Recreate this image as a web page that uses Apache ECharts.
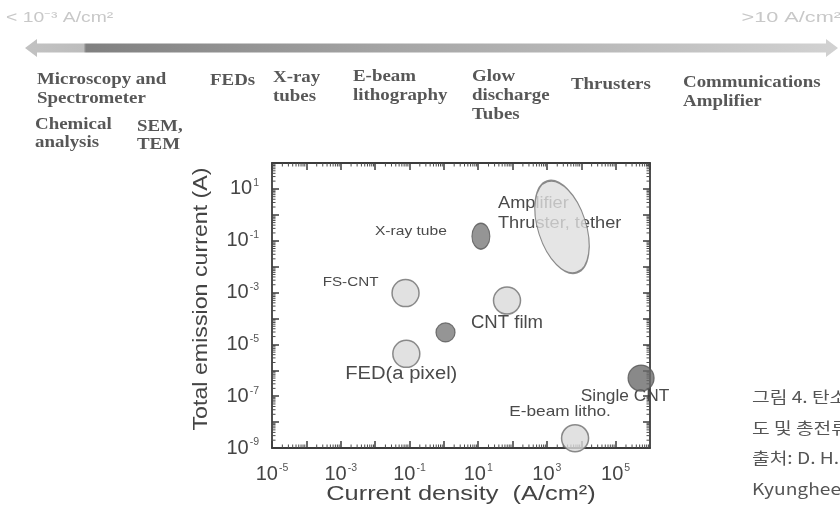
<!DOCTYPE html>
<html>
<head>
<meta charset="utf-8">
<script src="https://cdn.jsdelivr.net/npm/echarts@6/dist/echarts.min.js"></script>
<style>html,body{margin:0;padding:0;background:#fff;}#c{width:840px;height:507px;}</style>
</head>
<body>
<div id="c"></div>
<script>
// ---- data ----
const pointNames = ['X-ray tube', 'FS-CNT', 'CNT film', '', 'FED(a pixel)', 'Single CNT', 'E-beam litho.', 'Amplifier\nThruster, tether'];
const currentDensity = [12, 0.077, 69, 1.12, 0.081, 5.5e5, 6600, 2750];                      // A/cm^2
const emissionCurrent = [0.15, 0.00095, 0.00049, 0.000029, 0.0000043, 0.0000005, 0.0000000024, 0.34]; // A
const xDecades = [-5, 6];   // 10^-5 .. 10^6 A/cm^2
const yDecades = [-9, 2];   // 10^-9 .. 10^2 A
const applicationRow1 = ['Microscopy and\nSpectrometer', 'FEDs', 'X-ray\ntubes', 'E-beam\nlithography', 'Glow\ndischarge\nTubes', 'Thrusters', 'Communications\nAmplifier'];
const applicationRow2 = ['Chemical\nanalysis', 'SEM,\nTEM'];
const rangeLabels = ['< 10\u207B\u00B3 A/cm\u00B2', '>10 A/cm\u00B2'];
const axisTitles = ['Current density  (A/cm\u00B2)', 'Total emission current (A)'];
const captionLines = ['그림 4. 탄소나노튜브 전계방출원의 전류밀', '도 및 총전류 비교', '출처: D. H. Kim', 'Kyunghee University'];

// ---- styles (by index) ----
const LIGHT = {color: '#d9d9d9', borderColor: '#6f6f6f', borderWidth: 1.5};
const DARK = {color: '#7a7a7a', borderColor: '#555', borderWidth: 1.2};
const markStyle = [
  {size: [18, 26], rot: 0, it: DARK, lab: {dx: -70, dy: -4, fs: 12, sx: 1.3}},
  {size: 27, rot: 0, it: LIGHT, lab: {dx: -55, dy: -11, fs: 13, sx: 1.17}},
  {size: 27, rot: 0, it: LIGHT, lab: {dx: 0, dy: 23, fs: 17.5, sx: 1.06}},
  {size: 19, rot: 0, it: DARK, lab: null},
  {size: 27, rot: 0, it: LIGHT, lab: {dx: -5, dy: 20, fs: 18, sx: 1.12}},
  {size: 26, rot: 0, it: Object.assign({}, DARK, {color: '#6c6c6c'}), lab: {dx: -16, dy: 18, fs: 16.5, sx: 1.05}},
  {size: 27, rot: 0, it: LIGHT, lab: {dx: -15, dy: -26, fs: 15, sx: 1.15}},
  {size: [48, 96], rot: 18, it: Object.assign({}, LIGHT, {color: '#dedede'}), lab: {dx: -64, dy: -14, fs: 17, sx: 1.07, left: true}}
];

const lg = Math.log10;
const seriesData = pointNames.map((n, i) => ({
  name: n,
  value: [lg(currentDensity[i]), lg(emissionCurrent[i])],
  symbolSize: markStyle[i].size,
  symbolRotate: markStyle[i].rot,
  itemStyle: markStyle[i].it
}));

// log-spaced minor tick positions (2..9 x 10^e) in exponent units
function minorPositions(r) {
  const out = [];
  for (let e = r[0]; e < r[1]; e++) for (let m = 2; m <= 9; m++) out.push(e + lg(m));
  return out;
}
const xMinor = minorPositions(xDecades).map(v => [v, yDecades[0]]);
const yMinor = minorPositions(yDecades).map(v => [xDecades[0], v]);

function powLabel(v) {
  const e = Math.round(v);
  if (Math.abs(e % 2) !== 1) return '';
  return '{b|10}{s|' + e + '}';
}
const sans = 'Liberation Sans, Arial, sans-serif';
const serif = 'Liberation Serif, Times New Roman, serif';
const rich = {
  b: {fontSize: 20, color: '#444', fontFamily: sans, lineHeight: 22},
  s: {fontSize: 10.5, color: '#555', fontFamily: sans, verticalAlign: 'top', lineHeight: 10, padding: [0, 0, 0, 1]}
};
const axLine = {show: true, onZero: false, lineStyle: {color: '#3c3c3c', width: 1.8}};
const tick = {show: true, inside: true, interval: 0, length: 7, lineStyle: {color: '#3c3c3c', width: 1.5}};

function expAxis(r, pos, withLabels, margin) {
  return {
    type: 'value', min: r[0], max: r[1], interval: 1, position: pos,
    axisLine: axLine, axisTick: tick, splitLine: {show: false},
    axisLabel: withLabels ? {show: true, formatter: powLabel, rich: rich, margin: margin, showMaxLabel: false} : {show: false}
  };
}

const MINOR_LEN = 3.5;
function minorTickItem(isX) {
  return function (params, api) {
    const cs = params.coordSys;
    const p = api.coord([api.value(0), api.value(1)]);
    const st = {stroke: '#4a4a4a', lineWidth: 1};
    if (isX) {
      const b = cs.y + cs.height, t = cs.y;
      return {type: 'group', children: [
        {type: 'line', shape: {x1: p[0], y1: b, x2: p[0], y2: b - MINOR_LEN}, style: st},
        {type: 'line', shape: {x1: p[0], y1: t, x2: p[0], y2: t + MINOR_LEN}, style: st}]};
    }
    const l = cs.x, r = cs.x + cs.width;
    return {type: 'group', children: [
      {type: 'line', shape: {x1: l, y1: p[1], x2: l + MINOR_LEN, y2: p[1]}, style: st},
      {type: 'line', shape: {x1: r, y1: p[1], x2: r - MINOR_LEN, y2: p[1]}, style: st}]};
  };
}

const chart = echarts.init(document.getElementById('c'), null, {renderer: 'canvas'});
chart.setOption({
  animation: false,
  backgroundColor: '#fff',
  grid: {left: 272, top: 163, width: 378, height: 285, containLabel: false},
  xAxis: [expAxis(xDecades, 'bottom', true, 15), expAxis(xDecades, 'top', false)],
  yAxis: [expAxis(yDecades, 'left', true, 13), expAxis(yDecades, 'right', false)],
  series: [
    {type: 'custom', renderItem: minorTickItem(true), data: xMinor, silent: true, z: 1},
    {type: 'custom', renderItem: minorTickItem(false), data: yMinor, silent: true, z: 1},
    {type: 'scatter', symbol: 'circle', data: seriesData, clip: false, label: {show: false}, z: 3}
  ]
});

const graphics = [];
function txt(t, x, y, o) {
  o = o || {};
  graphics.push({
    type: 'text', x: x, y: y, scaleX: o.sx || 1, rotation: o.rot || 0, silent: true,
    style: {text: t, x: 0, y: 0, fill: o.fill || '#444', fontSize: o.fs || 14, fontFamily: o.ff || sans,
      fontWeight: o.fw || 'normal', textAlign: o.align || 'left', textVerticalAlign: o.va || 'middle',
      lineHeight: o.lh || undefined}
  });
}
// gradient arrow bar
graphics.push({
  type: 'polygon', silent: true,
  shape: {points: [[25, 48], [37, 39], [37, 43.5], [826, 43.5], [826, 39], [838, 48], [826, 57], [826, 52.5], [37, 52.5], [37, 57]]},
  style: {fill: new echarts.graphic.LinearGradient(0, 0, 1, 0, [
    {offset: 0, color: '#c2c2c2'}, {offset: 0.072, color: '#bdbdbd'}, {offset: 0.075, color: '#808080'},
    {offset: 0.45, color: '#a5a5a5'}, {offset: 1, color: '#d2d2d2'}])}
});
txt(rangeLabels[0], 6, 18, {fill: '#c8c8c8', fs: 14, sx: 1.38});
txt(rangeLabels[1], 841, 18, {fill: '#c8c8c8', fs: 14, sx: 1.55, align: 'right'});
const row1Pos = [[37, 70], [210, 71], [273, 68], [353, 67], [472, 67], [571, 75], [683, 73]];
applicationRow1.forEach((t, i) => txt(t, row1Pos[i][0], row1Pos[i][1], {fill: '#575757', fs: 17.5, fw: 'bold', ff: serif, lh: 19, va: 'top', sx: 1.08}));
const row2Pos = [[35, 115], [137, 117]];
applicationRow2.forEach((t, i) => txt(t, row2Pos[i][0], row2Pos[i][1], {fill: '#575757', fs: 17.5, fw: 'bold', ff: serif, lh: 18.5, va: 'top', sx: 1.08}));
// axis titles
txt(axisTitles[0], 461, 494, {fs: 20, sx: 1.27, align: 'center', fill: '#444'});
txt(axisTitles[1], 201, 299, {fs: 20, sx: 1.16, align: 'center', fill: '#444', rot: Math.PI / 2});
// caption
captionLines.forEach((t, i) => txt(t, 752, 397 + i * 30.5, {fill: '#555', fs: 16, sx: 1.2, ff: 'Noto Sans CJK KR, sans-serif'}));
// data labels positioned from the data through the chart's scales
pointNames.forEach((n, i) => {
  const l = markStyle[i].lab;
  if (!l || !n) return;
  const p = chart.convertToPixel({xAxisIndex: 0, yAxisIndex: 0}, [lg(currentDensity[i]), lg(emissionCurrent[i])]);
  txt(n, p[0] + l.dx, p[1] + l.dy, {fs: l.fs, sx: l.sx, align: l.left ? 'left' : 'center', fill: '#4a4a4a', lh: l.fs + 3});
});
chart.setOption({graphic: graphics});
</script>
</body>
</html>
